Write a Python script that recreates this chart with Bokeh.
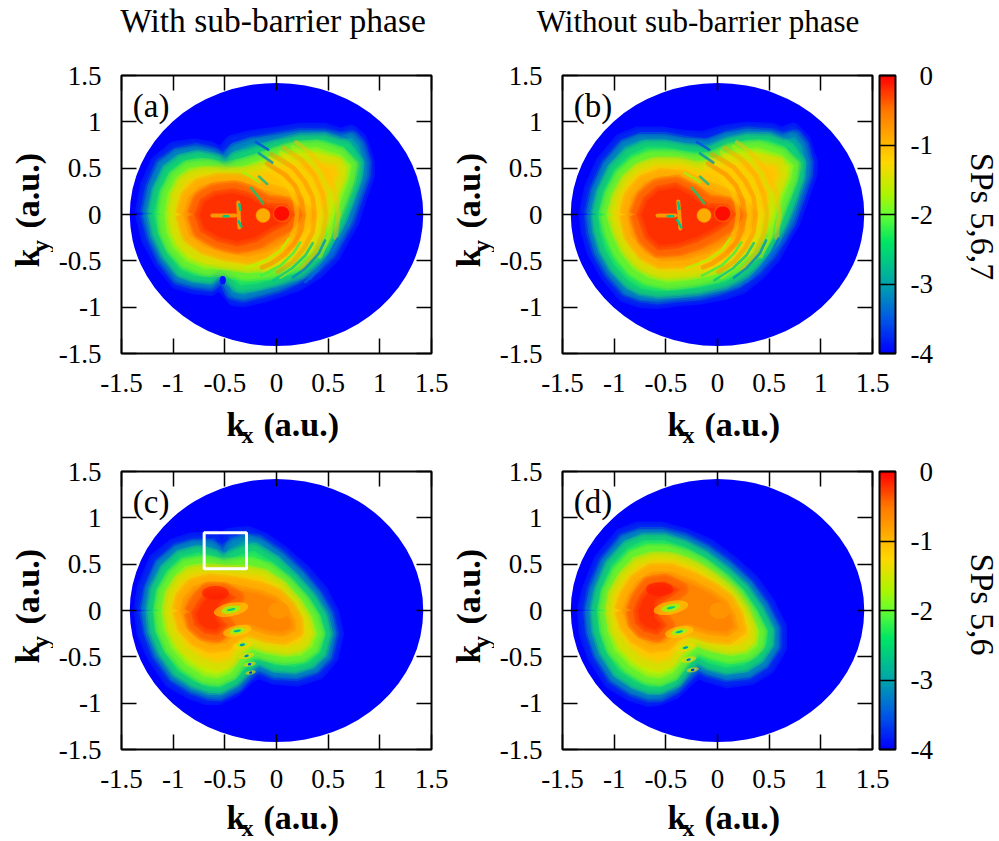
import math
import numpy as np
from bokeh.core.properties import value
from bokeh.embed import file_html
from bokeh.layouts import column, row
from bokeh.models import ColorBar, FixedTicker, Label, LinearAxis, LinearColorMapper, Range1d
from bokeh.plotting import figure
from bokeh.resources import INLINE

TICKS = [-1.5, -1, -0.5, 0, 0.5, 1, 1.5]
TICK_LABELS = ["-1.5", "-1", "-0.5", "0", "0.5", "1", "1.5"]
CB_TICKS = [-4, -3, -2, -1, 0]
CB_LABELS = ["-4", "-3", "-2", "-1", "\u20040"]
TITLES = ["With sub-barrier phase", "Without sub-barrier phase"]
PANELS = ["(a)", "(b)", "(c)", "(d)"]
SIDE_LABELS = ["SPs 5,6,7", "SPs 5,6"]

PAL_V = [-4, -3.5, -3, -2.4, -2, -1.7, -1.25, -1, -0.5, 0]
PAL_R = [0, 0, 0, 0, 100, 175, 255, 255, 255, 255]
PAL_G = [0, 90, 165, 230, 255, 245, 215, 185, 120, 0]
PAL_B = [255, 230, 170, 100, 50, 0, 0, 0, 0, 0]

DISC_R = 1.42
LEVELS = [-3.4, -2.8, -2.2, -1.6, -1.1, -0.6, -0.2]

A_C = [
 [(-1.30,.01),(-1.25,.31),(-1.15,.56),(-.99,.71),(-.80,.74),(-.64,.71),(-.53,.64),(-.43,.78),(-.25,.83),(.01,.87),(.23,.91),(.46,.91),(.62,.85),(.72,.89),(.81,.80),(.88,.56),(.88,.42),(.80,.17),(.73,-.08),(.65,-.23),(.55,-.44),(.39,-.62),(.20,-.75),(.07,-.80),(-.12,-.87),(-.32,-.92),(-.41,-.91),(-.49,-.80),(-.56,-.73),(-.64,-.80),(-.80,-.78),(-.96,-.73),(-1.12,-.51),(-1.24,-.26)],
 [(-1.25,.01),(-1.20,.29),(-1.11,.53),(-.96,.65),(-.78,.69),(-.61,.65),(-.51,.58),(-.41,.69),(-.25,.76),(.01,.81),(.23,.85),(.46,.85),(.62,.81),(.73,.83),(.80,.74),(.85,.55),(.84,.42),(.76,.17),(.68,-.08),(.60,-.23),(.51,-.41),(.36,-.57),(.17,-.69),(.01,-.77),(-.15,-.82),(-.32,-.87),(-.43,-.84),(-.49,-.69),(-.56,-.68),(-.64,-.75),(-.80,-.73),(-.95,-.68),(-1.09,-.48),(-1.19,-.24)],
 [(-1.19,.01),(-1.14,.26),(-1.04,.47),(-.91,.58),(-.75,.62),(-.57,.58),(-.48,.51),(-.40,.60),(-.22,.65),(.01,.74),(.23,.80),(.46,.81),(.65,.74),(.78,.56),(.76,.38),(.68,.13),(.60,-.08),(.52,-.26),(.41,-.44),(.23,-.62),(.04,-.69),(-.19,-.75),(-.35,-.77),(-.45,-.69),(-.54,-.59),(-.64,-.68),(-.80,-.66),(-.93,-.60),(-1.06,-.42),(-1.15,-.21)],
 [(-1.09,0),(-1.06,.22),(-.98,.40),(-.85,.51),(-.67,.53),(-.51,.49),(-.32,.53),(-.09,.62),(.14,.71),(.39,.73),(.62,.65),(.73,.53),(.70,.37),(.62,.13),(.54,-.08),(.46,-.26),(.35,-.42),(.17,-.55),(-.06,-.62),(-.28,-.64),(-.51,-.60),(-.70,-.59),(-.88,-.51),(-1.01,-.35),(-1.07,-.19)],
 [(-.99,0),(-.96,.21),(-.88,.37),(-.74,.44),(-.54,.46),(-.32,.44),(-.12,.49),(.10,.58),(.33,.60),(.59,.55),(.62,.42),(.52,.21),(.46,-.01),(.39,-.21),(.28,-.37),(.10,-.48),(-.09,-.53),(-.32,-.55),(-.54,-.51),(-.74,-.44),(-.88,-.33),(-.96,-.17)],
 [(-.91,0),(-.86,.19),(-.75,.31),(-.57,.37),(-.35,.37),(-.15,.28),(.04,.22),(.20,.12),(.30,0),(.23,-.15),(.10,-.30),(-.09,-.41),(-.28,-.46),(-.51,-.42),(-.70,-.35),(-.85,-.23)],
 [(-.80,0),(-.74,.17),(-.61,.26),(-.41,.29),(-.25,.24),(-.09,.13),(.10,.12),(.18,0),(.10,-.12),(-.03,-.19),(-.19,-.30),(-.38,-.35),(-.57,-.30),(-.74,-.19)],
]
B_C = [
 [(-1.27,0),(-1.22,.28),(-1.11,.56),(-.93,.80),(-.77,.87),(-.55,.87),(-.32,.83),(-.13,.82),(.07,.89),(.29,.92),(.52,.91),(.62,.86),(.73,.91),(.83,.80),(.90,.56),(.89,.42),(.81,.17),(.73,-.08),(.65,-.23),(.55,-.44),(.41,-.62),(.23,-.78),(.07,-.84),(-.16,-.89),(-.38,-.91),(-.58,-.94),(-.74,-.93),(-.90,-.87),(-1.06,-.66),(-1.19,-.41),(-1.25,-.19)],
 [(-1.22,0),(-1.17,.26),(-1.06,.53),(-.90,.74),(-.74,.81),(-.51,.81),(-.32,.77),(-.09,.74),(.10,.83),(.29,.87),(.52,.85),(.63,.81),(.75,.84),(.82,.74),(.86,.55),(.85,.42),(.77,.17),(.69,-.08),(.61,-.23),(.50,-.42),(.36,-.59),(.18,-.73),(0,-.80),(-.19,-.85),(-.42,-.87),(-.58,-.89),(-.74,-.87),(-.88,-.81),(-1.03,-.62),(-1.14,-.41),(-1.20,-.19)],
 [(-1.16,0),(-1.11,.24),(-1.00,.49),(-.85,.65),(-.69,.73),(-.50,.73),(-.29,.69),(-.09,.67),(.10,.76),(.29,.81),(.49,.81),(.65,.74),(.79,.56),(.78,.38),(.70,.13),(.62,-.08),(.54,-.26),(.42,-.44),(.26,-.62),(.07,-.73),(-.16,-.79),(-.38,-.82),(-.58,-.83),(-.74,-.80),(-.87,-.71),(-1.00,-.55),(-1.09,-.37),(-1.14,-.19)],
 [(-1.08,0),(-1.03,.21),(-.93,.42),(-.80,.55),(-.64,.62),(-.42,.62),(-.22,.58),(-.06,.60),(.13,.70),(.39,.73),(.62,.65),(.74,.53),(.71,.37),(.62,.13),(.55,-.08),(.46,-.26),(.35,-.42),(.18,-.57),(-.03,-.66),(-.25,-.71),(-.48,-.74),(-.67,-.69),(-.82,-.59),(-.95,-.41),(-1.03,-.21)],
 [(-1.00,0),(-.96,.19),(-.87,.37),(-.75,.49),(-.58,.55),(-.35,.55),(-.16,.49),(.10,.58),(.33,.60),(.59,.55),(.62,.42),(.53,.21),(.46,-.01),(.40,-.21),(.29,-.37),(.12,-.51),(-.09,-.59),(-.32,-.62),(-.55,-.62),(-.71,-.55),(-.84,-.41),(-.93,-.23)],
 [(-.88,0),(-.84,.19),(-.72,.35),(-.55,.42),(-.34,.40),(-.16,.31),(.05,.22),(.21,.12),(.31,0),(.25,-.15),(.10,-.32),(-.09,-.42),(-.32,-.50),(-.55,-.51),(-.71,-.42),(-.84,-.23)],
 [(-.79,0),(-.72,.19),(-.59,.31),(-.40,.35),(-.24,.26),(-.09,.13),(.10,.12),(.18,0),(.10,-.12),(-.03,-.21),(-.19,-.30),(-.38,-.37),(-.58,-.39),(-.71,-.26)],
]
C_C = [
 [(-1.31,0),(-1.28,.25),(-1.17,.54),(-.99,.70),(-.83,.76),(-.68,.77),(-.60,.79),(-.52,.64),(-.46,.81),(-.28,.83),(-.12,.76),(.07,.61),(.27,.41),(.43,.20),(.54,-.04),(.58,-.25),(.53,-.50),(.40,-.67),(.20,-.74),(-.02,-.72),(-.18,-.65),(-.28,-.72),(-.41,-.86),(-.57,-.94),(-.67,-.94),(-.83,-.88),(-1.02,-.76),(-1.18,-.50),(-1.28,-.25)],
 [(-1.26,0),(-1.22,.23),(-1.12,.49),(-.96,.65),(-.80,.70),(-.68,.70),(-.57,.65),(-.52,.59),(-.46,.67),(-.31,.76),(-.18,.74),(.03,.58),(.22,.38),(.38,.16),(.49,-.05),(.53,-.25),(.48,-.49),(.36,-.62),(.19,-.68),(-.02,-.67),(-.17,-.59),(-.26,-.65),(-.39,-.81),(-.55,-.90),(-.65,-.89),(-.81,-.83),(-.99,-.70),(-1.14,-.47),(-1.22,-.23)],
 [(-1.20,0),(-1.17,.22),(-1.07,.43),(-.93,.58),(-.76,.63),(-.60,.59),(-.51,.54),(-.35,.61),(-.22,.65),(-.02,.52),(.15,.34),(.32,.14),(.43,-.05),(.48,-.25),(.43,-.45),(.32,-.56),(.17,-.61),(-.02,-.59),(-.17,-.52),(-.26,-.58),(-.39,-.74),(-.54,-.83),(-.65,-.83),(-.80,-.77),(-.96,-.65),(-1.10,-.43),(-1.18,-.22)],
 [(-1.12,0),(-1.09,.20),(-.99,.38),(-.88,.49),(-.70,.52),(-.51,.49),(-.28,.50),(-.09,.45),(.09,.31),(.25,.11),(.35,-.07),(.40,-.25),(.35,-.40),(.24,-.49),(.07,-.51),(-.12,-.47),(-.23,-.43),(-.33,-.50),(-.44,-.68),(-.57,-.74),(-.70,-.72),(-.88,-.59),(-1.02,-.41),(-1.10,-.20)],
 [(-1.04,0),(-1.01,.18),(-.93,.32),(-.80,.41),(-.60,.43),(-.38,.41),(-.15,.38),(.03,.27),(.17,.09),(.27,-.09),(.30,-.25),(.24,-.36),(.11,-.41),(-.09,-.38),(-.25,-.32),(-.36,-.40),(-.44,-.54),(-.57,-.58),(-.73,-.52),(-.88,-.40),(-.99,-.22)],
 [(-.94,0),(-.91,.14),(-.81,.27),(-.64,.32),(-.41,.29),(-.15,.23),(.01,.16),(.12,.04),(.19,-.11),(.19,-.22),(.07,-.29),(-.09,-.27),(-.28,-.20),(-.39,-.25),(-.49,-.36),(-.64,-.38),(-.78,-.31),(-.89,-.18)],
 [(-.83,-.02),(-.76,.11),(-.67,.23),(-.51,.23),(-.38,.14),(-.51,.05),(-.54,-.07),(-.47,-.16),(-.57,-.27),(-.70,-.25),(-.80,-.16)],
]
D_C = [
 [(-1.29,0),(-1.24,.23),(-1.13,.54),(-.93,.81),(-.77,.88),(-.55,.88),(-.32,.81),(-.09,.70),(.13,.52),(.33,.32),(.49,.07),(.60,-.18),(.60,-.40),(.49,-.61),(.33,-.72),(.10,-.76),(-.09,-.70),(-.19,-.65),(-.29,-.74),(-.42,-.88),(-.58,-.95),(-.67,-.96),(-.84,-.90),(-1.03,-.77),(-1.19,-.50),(-1.27,-.25)],
 [(-1.23,0),(-1.19,.23),(-1.08,.52),(-.90,.76),(-.74,.82),(-.53,.82),(-.32,.76),(-.11,.64),(.10,.47),(.29,.27),(.44,.04),(.55,-.20),(.55,-.38),(.44,-.56),(.29,-.67),(.08,-.69),(-.09,-.64),(-.19,-.58),(-.29,-.68),(-.42,-.83),(-.56,-.91),(-.66,-.91),(-.82,-.85),(-1.00,-.72),(-1.14,-.47),(-1.21,-.23)],
 [(-1.17,0),(-1.13,.22),(-1.03,.49),(-.87,.68),(-.71,.76),(-.51,.76),(-.32,.69),(-.13,.58),(.07,.41),(.25,.23),(.39,0),(.49,-.22),(.48,-.36),(.39,-.50),(.26,-.59),(.08,-.62),(-.09,-.57),(-.19,-.51),(-.29,-.59),(-.40,-.76),(-.55,-.83),(-.66,-.83),(-.80,-.77),(-.96,-.65),(-1.09,-.43),(-1.15,-.22)],
 [(-1.09,0),(-1.06,.20),(-.96,.41),(-.82,.58),(-.66,.64),(-.48,.64),(-.29,.58),(-.11,.47),(.07,.32),(.21,.16),(.33,-.05),(.41,-.23),(.39,-.38),(.29,-.47),(.13,-.50),(-.06,-.45),(-.19,-.40),(-.30,-.50),(-.43,-.68),(-.56,-.74),(-.69,-.72),(-.85,-.61),(-1.00,-.43),(-1.07,-.22)],
 [(-1.03,0),(-1.00,.18),(-.90,.36),(-.77,.50),(-.61,.56),(-.42,.55),(-.22,.47),(-.03,.34),(.13,.20),(.25,.02),(.32,-.18),(.32,-.29),(.23,-.38),(.08,-.40),(-.09,-.36),(-.24,-.29),(-.35,-.38),(-.45,-.54),(-.58,-.58),(-.74,-.52),(-.88,-.38),(-.98,-.22)],
 [(-.93,0),(-.88,.16),(-.79,.32),(-.64,.43),(-.45,.43),(-.24,.34),(-.05,.23),(.10,.11),(.18,-.05),(.21,-.20),(.10,-.29),(-.09,-.27),(-.29,-.20),(-.40,-.25),(-.50,-.36),(-.64,-.38),(-.79,-.29),(-.88,-.16)],
 [(-.82,0),(-.77,.14),(-.67,.29),(-.51,.32),(-.35,.23),(-.45,.14),(-.56,.07),(-.56,-.05),(-.48,-.16),(-.58,-.27),(-.72,-.23),(-.80,-.14)],
]

# interference rings of panels (a) and (b): value, then the points along the ring
RINGS = [
 (-1.2, [(-.12,.50),(.04,.39),(.13,.28),(.18,.14),(.20,0),(.18,-.14),(.13,-.28),(.04,-.39),(-.08,-.48),(-.16,-.52)]),
 (-.5, [(-.09,.55),(.08,.43),(.18,.31),(.24,.16),(.26,0),(.24,-.16),(.18,-.31),(.08,-.43),(-.05,-.53),(-.14,-.57)]),
 (-1.2, [(-.07,.60),(.12,.47),(.22,.33),(.29,.17),(.31,0),(.29,-.17),(.22,-.33),(.12,-.47),(-.02,-.57),(-.12,-.62)]),
 (-.65, [(-.05,.65),(.16,.51),(.27,.36),(.35,.19),(.37,0),(.35,-.19),(.27,-.36),(.16,-.51),(.01,-.62)]),
 (-1.35, [(.04,.67),(.19,.54),(.32,.39),(.39,.20),(.42,0),(.39,-.20),(.32,-.39),(.19,-.54),(.04,-.67)]),
 (-.85, [(.07,.72),(.24,.59),(.37,.42),(.45,.21),(.48,0),(.45,-.21),(.37,-.42),(.24,-.59)]),
 (-1.6, [(.16,.73),(.28,.63),(.42,.45),(.51,.23),(.54,0),(.51,-.23),(.42,-.45)]),
 (-1.05, [(.19,.78),(.32,.67),(.47,.48),(.57,.25),(.60,0),(.57,-.25)]),
]
DARK_ARCS = [
 (-3.5, [(.65,-.25),(.57,-.39),(.45,-.54),(.33,-.69)]),
 (-3.4, [(.59,-.26),(.52,-.42),(.40,-.60),(.28,-.73)]),
 (-3.2, [(.47,-.28),(.41,-.42),(.28,-.58),(.16,-.68)]),
 (-2.7, [(.35,-.31),(.28,-.44),(.15,-.58),(-.03,-.71)]),
 (-2.2, [(.23,-.30),(.16,-.42),(.04,-.55),(-.15,-.66)]),
 (-1.7, [(.12,-.26),(.04,-.39),(-.11,-.50),(-.30,-.58)]),
 (-3.6, [(-.20,.78),(-.08,.70)]),
 (-3.2, [(-.17,.66),(-.04,.56)]),
 (-2.8, [(-.17,.41),(-.09,.33)]),
 (-1.8, [(-.32,.45),(-.24,.40),(-.17,.35)]),
 (-2.6, [(-.25,.29),(-.19,.21),(-.13,.12)]),
]
A_TRIDENT = [[(-.51,-.02),(-.47,-.02)],[(-.36,.11),(-.35,.05)],[(-.37,-.07),(-.34,-.13)]]
B_TRIDENT = [[(-.48,-.02),(-.43,-.02)],[(-.38,.13),(-.37,.06)],[(-.39,-.06),(-.35,-.14)]]
A_HALO = [[(-.62,-.01),(-.40,-.01)],[(-.37,.13),(-.36,-.14)]]
B_HALO = [[(-.58,-.01),(-.41,-.01)],[(-.38,.14),(-.36,-.15)]]
CORE_X = [-.13, .05]
CORE_Y = [-.01, .01]
CORE_V = [-0.9, -0.05]
CORE_W = [.135, .16]
CORE_H = [.15, .17]

C_SPOT_X = [-.44, -.38, -.33, -.29, -.26, -.25]
C_SPOT_Y = [.01, -.22, -.37, -.49, -.58, -.67]
C_SPOT_V = [-2.6, -2.8, -3.1, -3.3, -3.6, -3.7]
C_SPOT_HALO = [.34, .28, .20, .15, .12, .10]
D_SPOT_X = [-.45, -.37, -.31, -.28, -.24]
D_SPOT_Y = [.03, -.23, -.40, -.53, -.64]
D_SPOT_V = [-2.6, -2.8, -3.1, -3.4, -3.7]
D_SPOT_HALO = [.34, .28, .20, .15, .12]
C_PEAK = (-.59, .19)
D_PEAK = (-.56, .23)
BOX_LEFT, BOX_RIGHT, BOX_BOTTOM, BOX_TOP = -.70, -.29, .45, .84
FONT = "Liberation Serif"
BASELINE_FIX = 0.29


def color_of(v):
    r = np.interp(v, PAL_V, PAL_R)
    g = np.interp(v, PAL_V, PAL_G)
    b = np.interp(v, PAL_V, PAL_B)
    return "#%02x%02x%02x" % (int(r), int(g), int(b))


PALETTE = [color_of(v) for v in np.linspace(-4, 0, 256)]


def strip(x0, y0, width, height, y_top=None, y_bottom=None):
    top_v = y0 if y_top is None else y_top
    bottom_v = y0 + height if y_bottom is None else y_bottom
    p = figure(width=width, height=height, x_range=Range1d(x0, x0 + width), y_range=Range1d(bottom_v, top_v),
               output_backend="svg", toolbar_location=None, min_border=0, x_axis_type=None, y_axis_type=None)
    p.grid.visible = False
    p.outline_line_color = None
    return p


def put(p, text, x, y, size, bold=False, align="left", angle=0.0):
    o = BASELINE_FIX * size
    if angle > 0:
        x -= o
    elif angle < 0:
        x += o
    else:
        y -= o
    p.text(x=[x], y=[y], text=[text], text_font=value(FONT), text_font_size=value(f"{size}px"),
           text_font_style="bold" if bold else "normal", text_align=align,
           text_baseline="alphabetic", angle=angle, text_color="black")


def base(width, left, right, top, bottom):
    p = figure(width=width, height=278 + top + bottom, frame_width=310, frame_height=278,
               x_range=Range1d(-1.5, 1.5), y_range=Range1d(-1.5, 1.5),
               output_backend="svg", toolbar_location=None,
               min_border_left=left, min_border_right=right, min_border_top=top, min_border_bottom=bottom)
    p.grid.visible = False
    p.outline_line_color = "black"
    p.outline_line_width = 2
    for ax in (p.xaxis[0], p.yaxis[0]):
        ax.ticker = FixedTicker(ticks=TICKS)
        ax.major_label_overrides = dict(zip(TICKS, TICK_LABELS))
        ax.major_label_text_font = FONT
        ax.major_label_text_font_size = "27px"
        ax.major_label_text_color = "black"
        ax.major_tick_in = 15
        ax.major_tick_out = 0
        ax.minor_tick_line_color = None
        ax.major_tick_line_color = "black"
        ax.major_tick_line_width = 1.5
        ax.axis_line_color = "black"
        ax.major_label_standoff = 20
    for side in ("above", "right"):
        a = LinearAxis(ticker=FixedTicker(ticks=TICKS), major_label_text_font_size="0px",
                       major_tick_in=15, major_tick_out=0, minor_tick_line_color=None,
                       major_tick_line_color="black", major_tick_line_width=1.5, major_label_standoff=0)
        a.major_label_overrides = {t: "" for t in TICKS}
        p.add_layout(a, side)
    p.ellipse(x=[0], y=[0], width=[2 * DISC_R], height=[2 * DISC_R], fill_color=color_of(-4), line_color=None)
    return p


def contours(p, polys):
    previous = color_of(-4)
    for v, poly in zip(LEVELS, polys):
        xs = [q[0] for q in poly] + [poly[0][0]]
        ys = [q[1] for q in poly] + [poly[0][1]]
        c = color_of(v)
        for w in (15, 11, 7, 3):
            p.line(xs, ys, line_color=c, line_width=w, line_alpha=0.22, line_join="round")
        p.patch(xs, ys, fill_color=c, line_color=None)
        for w in (11, 6, 2):
            p.line(xs, ys, line_color=previous, line_width=w, line_alpha=0.18, line_join="round")
        previous = c


def arcs(p, items, width, alpha):
    for v, pts in items:
        p.line([q[0] for q in pts], [q[1] for q in pts], line_color=color_of(v),
               line_width=width, line_alpha=alpha, line_cap="round", line_join="round")


def trident(p, halo, arms):
    for seg in halo:
        p.line([q[0] for q in seg], [q[1] for q in seg], line_color=color_of(-1.3), line_width=4, line_alpha=.6, line_cap="round")
    for seg in arms:
        p.line([q[0] for q in seg], [q[1] for q in seg], line_color=color_of(-2.7), line_width=2.5, line_cap="round")


def core(p):
    p.ellipse(x=CORE_X, y=CORE_Y, width=CORE_W, height=CORE_H, fill_color=[color_of(v) for v in CORE_V],
              line_color=color_of(-1.0), line_alpha=.3, line_width=1.5)


def spots(p, xs, ys, vs, halos, peak):
    p.ellipse(x=[peak[0]], y=[peak[1]], width=[.26], height=[.15], fill_color=color_of(-.12), fill_alpha=.7, line_color=None)
    p.ellipse(x=[.02], y=[0], width=[.2], height=[.18], fill_color=color_of(-.72), line_color=None)
    for x, y, v, h in zip(xs, ys, vs, halos):
        p.ellipse(x=[x], y=[y], width=[h], height=[h * .42], angle=[.2], fill_color=color_of(-1.2), fill_alpha=.6, line_color=None)
        p.ellipse(x=[x], y=[y], width=[h * .55], height=[h * .24], angle=[.2], fill_color=color_of(-1.8), fill_alpha=.8, line_color=None)
        p.ellipse(x=[x], y=[y], width=[h * .22 + .01], height=[.026], angle=[.2], fill_color=color_of(v), line_color=None)


def panel_name(p, name):
    p.add_layout(Label(x=-1.39, y=1.176, text=name, text_font=FONT, text_font_size="33px",
                       text_baseline="alphabetic", text_color="black"))


def colorbar(p):
    mapper = LinearColorMapper(palette=PALETTE, low=-4, high=0)
    cb = ColorBar(color_mapper=mapper, width=16, height=278, padding=0, margin=0, location=(7, 0),
                  ticker=FixedTicker(ticks=CB_TICKS), major_tick_in=16, major_tick_out=0,
                  major_tick_line_color="black", major_tick_line_width=1.5,
                  bar_line_color="black", bar_line_width=2, border_line_color=None,
                  background_fill_alpha=0, major_label_text_font=FONT, major_label_text_font_size="27px",
                  major_label_text_color="black", label_standoff=15)
    cb.major_label_overrides = dict(zip(CB_TICKS, CB_LABELS))
    p.add_layout(cb, "right")


def kx_label(p, dx, dy):
    put(p, "k", 226 + dx, 434 + dy, 34, bold=True)
    put(p, "x", 241 + dx, 441 + dy, 24, bold=True)
    put(p, "(a.u.)", 263 + dx, 434 + dy, 34, bold=True)


def ky_label(p, dx, dy):
    put(p, "k", 37 + dx, 267 + dy, 34, bold=True, angle=math.pi / 2)
    put(p, "y", 47 + dx, 252 + dy, 25, bold=True, angle=math.pi / 2)
    put(p, "(a.u.)", 37 + dx, 228 + dy, 34, bold=True, angle=math.pi / 2)


COL = 441
ROW = 396

top = strip(0, 0, 999, 40)
put(top, TITLES[0], 272.5, 30, 33.5, align="center")
put(top, TITLES[1], 697.5, 30, 31, align="center")

# panel (a)
a = base(396, 68, 18, 35, 52)
contours(a, A_C)
arcs(a, RINGS, 4.5, .45)
arcs(a, DARK_ARCS, 2.6, .75)
trident(a, A_HALO, A_TRIDENT)
core(a)
a.ellipse(x=[-.52], y=[-.71], width=[.06], height=[.09], fill_color=color_of(-3.9), line_color=None)
panel_name(a, PANELS[0])

# panel (b)
b = base(448, 68, 70, 35, 52)
contours(b, B_C)
arcs(b, RINGS, 4.5, .45)
arcs(b, DARK_ARCS, 2.6, .75)
trident(b, B_HALO, B_TRIDENT)
core(b)
panel_name(b, PANELS[1])
colorbar(b)

# the side strips of a row share the frame of the row's panels (page y 75-353, 471-749)
left1 = strip(0, 40, 53, 365, 75, 353)
ky_label(left1, 0, 0)
left2 = strip(449, 40, 45, 365, 75, 353)
ky_label(left2, COL, 0)
right1 = strip(942, 40, 57, 365, 75, 353)
put(right1, SIDE_LABELS[0], 972, 216, 34, align="center", angle=-math.pi / 2)

mid = strip(0, 405, 999, 45)
kx_label(mid, 0, 0)
kx_label(mid, COL, 0)

# panel (c)
c = base(396, 68, 18, 21, 52)
contours(c, C_C)
spots(c, C_SPOT_X, C_SPOT_Y, C_SPOT_V, C_SPOT_HALO, C_PEAK)
c.quad(left=[BOX_LEFT], right=[BOX_RIGHT], bottom=[BOX_BOTTOM], top=[BOX_TOP], fill_color=None, line_color="white", line_width=3)
panel_name(c, PANELS[2])

# panel (d)
d = base(448, 68, 70, 21, 52)
contours(d, D_C)
spots(d, D_SPOT_X, D_SPOT_Y, D_SPOT_V, D_SPOT_HALO, D_PEAK)
panel_name(d, PANELS[3])
colorbar(d)

left3 = strip(0, 450, 53, 351, 471, 749)
ky_label(left3, 0, ROW)
left4 = strip(449, 450, 45, 351, 471, 749)
ky_label(left4, COL, ROW)
right2 = strip(942, 450, 57, 351, 471, 749)
put(right2, SIDE_LABELS[1], 972, 604, 34, align="center", angle=-math.pi / 2)

bottom = strip(0, 801, 999, 40)
kx_label(bottom, 0, ROW - 3)
kx_label(bottom, COL, ROW - 3)

layout = column(top,
                row(left1, a, left2, b, right1, spacing=0),
                mid,
                row(left3, c, left4, d, right2, spacing=0),
                bottom, spacing=0)
open("out.html", "w").write(file_html(layout, INLINE))
